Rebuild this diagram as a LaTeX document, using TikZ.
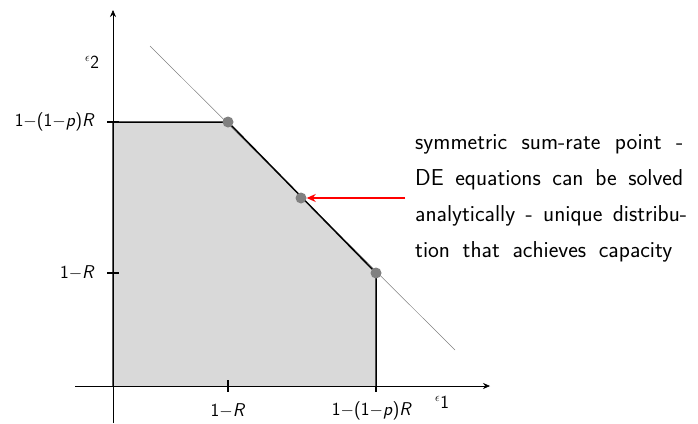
\documentclass[tikz,border=0pt]{standalone}
\usetikzlibrary{arrows.meta}

\newcommand{\notespacing}{\spaceskip=0.55em plus 0.3em minus 0.1em\relax}
\newcommand{\fullline}[1]{\makebox[\linewidth][s]{#1}}

\begin{document}
\begin{tikzpicture}[
    x=1pt, y=-1pt,
    axis/.style={-{Stealth[length=7pt, width=6pt]}, line width=0.6pt},
    region/.style={fill=gray!30},
    edge/.style={line width=1.5pt},
    tick/.style={line width=1.2pt},
    dot/.style={circle, fill=gray, inner sep=0pt, minimum size=11pt},
    lbl/.style={font=\fontsize{18.5}{22}\selectfont\sffamily, inner sep=1pt},
    note/.style={text width=268pt, align=left, inner xsep=10pt, inner ysep=0pt,
        font=\fontsize{23}{36}\selectfont\sffamily},
    pointer/.style={-{Stealth[length=9pt, width=8pt]}, red, line width=1.4pt}
]
    \useasboundingbox (0,0) rectangle (698,423);

    \coordinate (O)  at (113,386);
    \coordinate (yt) at (113,122);
    \coordinate (rb) at (376,386);
    \coordinate (q1) at (228,122);
    \coordinate (q2) at (301,198);
    \coordinate (q3) at (376,273);

    % achievable region
    \fill[region] (O) -- (yt) -- (q1) -- (q3) -- (rb) -- cycle;

    % sum-rate line
    \draw[gray, line width=0.5pt] (150,46) -- (455,350);

    % axes
    \draw[axis] (75,386) -- (490,386);
    \draw[axis] (113,423) -- (113,10);

    \draw[edge] (O) -- (yt) -- (q1) -- (q3) -- (rb);

    \node[dot] (p1) at (q1) {};
    \node[dot] (p2) at (q2) {};
    \node[dot] (p3) at (q3) {};

    % ticks
    \draw[tick] (228,380) -- (228,392);
    \draw[tick] (376,386) -- (376,392);
    \draw[tick] (107,122) -- (119,122);
    \draw[tick] (107,273) -- (119,273);

    \node[lbl, anchor=east] (y1) at (96,122) {1$-$(1$-$\textit{p})\textit{R}};
    \node[lbl, anchor=east] (y2) at (96,273) {1$-$\textit{R}};
    \node[lbl] (x1) at (228,411) {1$-$\textit{R}};
    \node[lbl] (x2) at (372,411) {1$-$(1$-$\textit{p})\textit{R}};
    \node[lbl] (e1) at (442,402) {$^{\epsilon}$1};
    \node[lbl] (e2) at (92,62) {$^{\epsilon}$2};

    \node[note, anchor=west] (txt) at (405,198) {\notespacing
        \fullline{symmetric sum-rate point -}\\
        \fullline{DE equations can be solved}\\
        \fullline{analytically - unique distribu-}\\
        tion that achieves capacity};

    \draw[pointer] (txt) -- (p2);
\end{tikzpicture}
\end{document}
